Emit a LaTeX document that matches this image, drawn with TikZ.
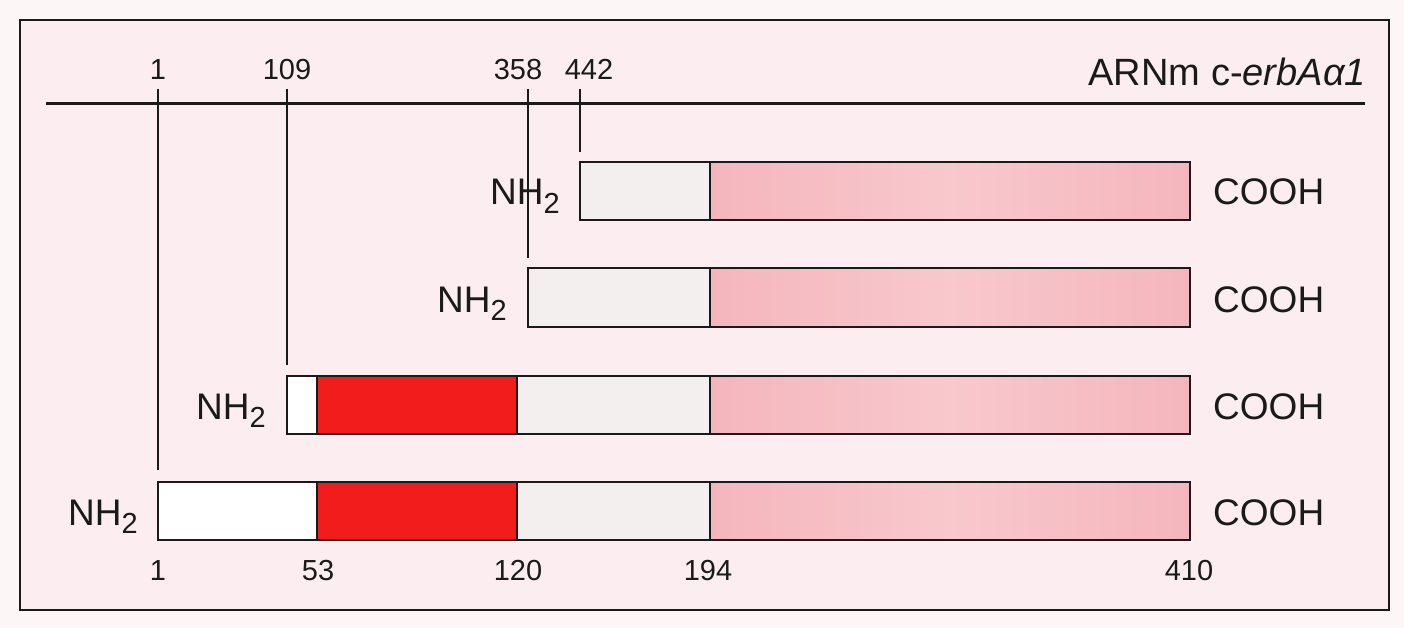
\documentclass[tikz,border=0pt]{standalone}
\usepackage{fontspec}
\setmainfont{Liberation Sans}
\definecolor{outbg}{HTML}{FDF6F7}
\definecolor{bgpink}{HTML}{FCEEF0}
\definecolor{lightgr}{HTML}{F4EFEF}
\definecolor{pinkA}{HTML}{F4B6BC}
\definecolor{pinkB}{HTML}{F8C8CD}
\definecolor{redbox}{HTML}{F21C1C}
\definecolor{ink}{HTML}{1A1A1A}
\newcommand{\subtwo}{\raisebox{-0.22em}{\fontsize{29}{29}\selectfont 2}}
\tikzset{
  barline/.style={draw=ink, line width=1.6pt},
  grfill/.style={fill=lightgr},
  pinkfill/.style={left color=pinkA, right color=pinkA, middle color=pinkB},
  lbl/.style={font=\fontsize{37}{37}\selectfont, inner sep=0pt, text=ink},
  num/.style={font=\fontsize{29}{29}\selectfont, inner sep=0pt, text=ink},
  tickline/.style={draw=ink, line width=1.1pt},
}
\begin{document}
\begin{tikzpicture}[x=1pt,y=-1pt]
\useasboundingbox (0,0) rectangle (1404,628);
\fill[outbg] (0,0) rectangle (1404,628);
% frame
\fill[bgpink] (20,20) rectangle (1389,610);
\draw[draw=ink, line width=1.8pt] (20,20) rectangle (1389,610);
% mRNA line
\coordinate (mL) at (46,104);
\coordinate (mR) at (1365,104);
\draw[draw=ink, line width=3pt] (mL) -- (mR);
\node[lbl, anchor=base east, font=\fontsize{38}{38}\selectfont] (arn) at (1366,86) {ARNm c-\textit{erbAα1}};
% top numbers
\node[num, anchor=base] (t1) at (158,80) {1};
\node[num, anchor=base] (t109) at (287,80) {109};
\node[num, anchor=base] (t358) at (518,80) {358};
\node[num, anchor=base] (t442) at (589,80) {442};
\coordinate (v1) at (158,89);
\coordinate (v109) at (287,89);
\coordinate (v358) at (528,89);
\coordinate (v442) at (580,89);

% Row 1
\fill[grfill] (580,162) rectangle (710,220);
\shade[pinkfill] (710,162) rectangle (1190,220);
\draw[barline] (580,162) rectangle (1190,220);
\draw[barline] (710,162) -- (710,220);
\coordinate (e1) at (580,152);
% Row 2
\fill[grfill] (528,268) rectangle (710,327);
\shade[pinkfill] (710,268) rectangle (1190,327);
\draw[barline] (528,268) rectangle (1190,327);
\draw[barline] (710,268) -- (710,327);
\coordinate (e2) at (528,258);
% Row 3
\fill[white] (287,376) rectangle (317,434);
\fill[redbox] (317,376) rectangle (517,434);
\fill[grfill] (517,376) rectangle (710,434);
\shade[pinkfill] (710,376) rectangle (1190,434);
\draw[barline] (287,376) rectangle (1190,434);
\draw[barline] (317,376) -- (317,434);
\draw[barline] (517,376) -- (517,434);
\draw[barline] (710,376) -- (710,434);
\coordinate (e3) at (287,365);
% Row 4
\fill[white] (158,482) rectangle (317,540);
\fill[redbox] (317,482) rectangle (517,540);
\fill[grfill] (517,482) rectangle (710,540);
\shade[pinkfill] (710,482) rectangle (1190,540);
\draw[barline] (158,482) rectangle (1190,540);
\draw[barline] (317,482) -- (317,540);
\draw[barline] (517,482) -- (517,540);
\draw[barline] (710,482) -- (710,540);
\coordinate (e4) at (158,470);

% tick lines
\draw[tickline] (v1) -- (e4);
\draw[tickline] (v109) -- (e3);
\draw[tickline] (v358) -- (e2);
\draw[tickline] (v442) -- (e1);

% NH2 labels
\node[lbl, anchor=base east] (nh1) at (560,205) {NH\subtwo};
\node[lbl, anchor=base east] (nh2) at (507,312) {NH\subtwo};
\node[lbl, anchor=base east] (nh3) at (266,419) {NH\subtwo};
\node[lbl, anchor=base east] (nh4) at (138,525) {NH\subtwo};
% COOH labels
\node[lbl, anchor=base west] (c1) at (1213,205) {COOH};
\node[lbl, anchor=base west] (c2) at (1213,312) {COOH};
\node[lbl, anchor=base west] (c3) at (1213,419) {COOH};
\node[lbl, anchor=base west] (c4) at (1213,525) {COOH};
% bottom numbers
\node[num, anchor=base] (b1) at (158,580) {1};
\node[num, anchor=base] (b53) at (318,580) {53};
\node[num, anchor=base] (b120) at (518,580) {120};
\node[num, anchor=base] (b194) at (708,580) {194};
\node[num, anchor=base] (b410) at (1189,580) {410};
\end{tikzpicture}
\end{document}
